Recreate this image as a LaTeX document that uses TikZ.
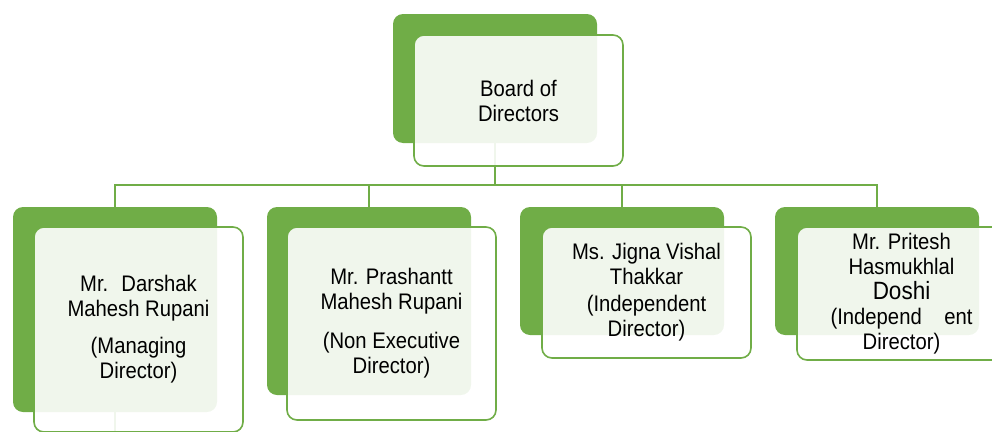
\documentclass[tikz,border=0pt]{standalone}
\usepackage{fontspec}
\setmainfont{Liberation Sans}[FakeStretch=0.9]
\usepackage{xcolor}
\usetikzlibrary{positioning, calc}

\definecolor{ogreen}{RGB}{112,173,71}

\begin{document}
\begin{tikzpicture}[x=1pt, y=-1pt,
    backbox/.style={fill=ogreen, rounded corners=10pt, inner sep=0pt, outer sep=0pt,
        anchor=north west, minimum width=204pt},
    frontbox/.style={draw=ogreen, line width=1.6pt, fill=white, fill opacity=0.9,
        text opacity=1, rounded corners=10pt, inner sep=0pt, outer sep=0pt,
        anchor=north west, minimum width=209pt, align=center,
        font=\fontsize{22.5}{25}\selectfont},
    link/.style={draw=ogreen, line width=1.8pt}]
        % Frame
        \useasboundingbox (0,0) rectangle (992,431);
        \coordinate (busy) at (0,185);
        \coordinate (c1down) at (115,470);

        % Back plates
        \node[backbox, minimum height=129pt] (back-bd) at (393,14) {};
        \node[backbox, minimum height=205pt] (back-c1) at (13,207) {};
        \node[backbox, minimum height=188pt] (back-c2) at (267,207) {};
        \node[backbox, minimum height=128pt] (back-c3) at (520,207) {};
        \node[backbox, minimum height=128pt] (back-c4) at (775,207) {};

        % Connectors (behind the front boxes)
        \foreach \c in {c1,c2,c3,c4}
            \draw[link] (back-bd.center) |- (back-\c.center |- busy) -- (back-\c.center);
        \draw[link] (back-c1.center) -- (c1down);

        % Front boxes
        \node[frontbox, minimum height=131pt] (bd) at (414,35) {Board of\\Directors};
        \node[frontbox, minimum height=205pt] (c1) at (34,227)
            {Mr.~ Darshak\\Mahesh Rupani\\[12pt](Managing\\Director)};
        \node[frontbox, minimum height=193pt] (c2) at (287,227)
            {Mr. Prashantt\\Mahesh Rupani\\[14pt](Non Executive\\Director)};
        \node[frontbox, minimum height=131pt] (c3) at (542,227)
            {Ms. Jigna Vishal\\Thakkar\\[2pt](Independent\\Director)};
        \node[frontbox, minimum height=133pt] (c4) at (797,227)
            {Mr. Pritesh\\Hasmukhlal\\{\fontsize{25}{25}\selectfont Doshi}\\(Independ\quad ent\\Director)};

    \end{tikzpicture}
\end{document}
